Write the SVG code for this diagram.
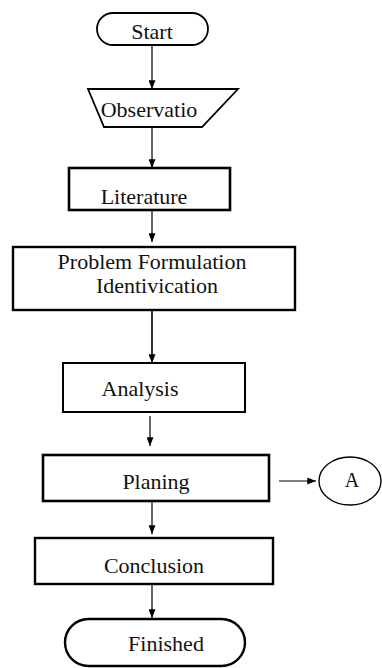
<svg xmlns="http://www.w3.org/2000/svg" width="382" height="668" viewBox="0 0 382 668">
<style>
.s{fill:#fff;stroke:#000;stroke-width:2.2}
.t{font-family:"Liberation Serif","Times New Roman",serif;font-size:22px;fill:#111;text-anchor:middle}
.c{stroke:#000;stroke-width:1.2;fill:none;marker-end:url(#ah)}
</style>
<defs>
<marker id="ah" viewBox="0 0 10 8" refX="10" refY="4" markerWidth="9" markerHeight="7" markerUnits="userSpaceOnUse" orient="auto">
<path d="M0,0 L10,4 L0,8 Z" fill="#000"/>
</marker>
</defs>
<rect width="382" height="668" fill="#fff"/>
<g id="connectors">
<line class="c" x1="152" y1="46" x2="152" y2="89"/>
<line class="c" x1="152" y1="127" x2="152" y2="168"/>
<line class="c" x1="152" y1="198" x2="152" y2="242"/>
<line class="c" x1="152" y1="311" x2="152" y2="363" style="stroke-width:1.6"/>
<line class="c" x1="150" y1="416" x2="150" y2="446"/>
<line class="c" x1="279" y1="481" x2="316" y2="481"/>
<line class="c" x1="152" y1="502" x2="152" y2="534"/>
<line class="c" x1="152" y1="585" x2="152" y2="618"/>
</g>
<g id="start">
<rect class="s" x="97" y="13" width="111" height="32" rx="16" style="stroke-width:1.8"/>
<text class="t" x="152" y="39">Start</text>
</g>
<g id="observatio">
<path class="s" d="M88,89 L238,89 L202,127 L104,127 Z" style="stroke-width:1.8"/>
<text class="t" x="149" y="117">Observatio</text>
</g>
<g id="literature">
<rect class="s" x="69" y="168" width="161" height="42" style="stroke-width:2.6"/>
<text class="t" x="144" y="204">Literature</text>
</g>
<g id="problem">
<rect class="s" x="13" y="247" width="282" height="63" style="stroke-width:2.4"/>
<text class="t" x="152" y="269">Problem Formulation</text>
<text class="t" x="157" y="293">Identivication</text>
</g>
<g id="analysis">
<rect class="s" x="63" y="363" width="182" height="49" style="stroke-width:2"/>
<text class="t" x="140" y="396">Analysis</text>
</g>
<g id="planing">
<rect class="s" x="43" y="455" width="226" height="46" style="stroke-width:2.6"/>
<text class="t" x="156" y="489">Planing</text>
</g>
<g id="a">
<ellipse class="s" cx="350" cy="481" rx="31" ry="24" style="stroke-width:1.4"/>
<text class="t" x="352" y="487" style="font-size:20px">A</text>
</g>
<g id="conclusion">
<rect class="s" x="35" y="538" width="238" height="46" style="stroke-width:2.4"/>
<text class="t" x="154" y="573">Conclusion</text>
</g>
<g id="finished">
<rect class="s" x="65" y="619" width="180" height="47" rx="23.5" style="stroke-width:2.4"/>
<text class="t" x="166" y="651">Finished</text>
</g>
</svg>
